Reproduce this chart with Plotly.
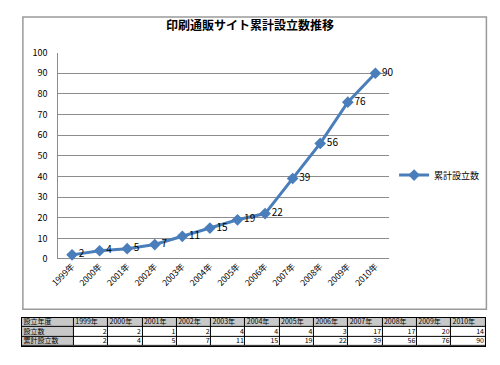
import plotly.graph_objects as go

years = ["1999年", "2000年", "2001年", "2002年", "2003年", "2004年",
         "2005年", "2006年", "2007年", "2008年", "2009年", "2010年"]
new_counts = [2, 2, 1, 2, 4, 4, 4, 3, 17, 17, 20, 14]
cumulative = [2, 4, 5, 7, 11, 15, 19, 22, 39, 56, 76, 90]
series_name = "累計設立数"
title = "印刷通販サイト累計設立数推移"
row_labels = ["設立数", "累計設立数"]
header_label = "設立年度"

W, H = 500, 365
OFF = 8  # page body margin offset in the browser
def px(x): return (x - OFF) / W
def py(y): return (H - (y - OFF)) / H

FONT = "Noto Sans CJK JP"
BLUE = "#4a7ebb"
GRAY = "#c8c8c8"

fig = go.Figure()
fig.add_trace(go.Scatter(
    x=years, y=cumulative, mode="lines+markers+text",
    name=series_name,
    line=dict(color=BLUE, width=3),
    marker=dict(symbol="diamond", size=9, color=BLUE),
    text=[str(v) for v in cumulative], textposition="middle right",
    textfont=dict(size=10, color="#000000", family=FONT),
    cliponaxis=False, hoverinfo="skip",
))

# ---- data table (drawn on its own axes) ----
first_w, col_w = 53, 35
widths = [first_w] + [col_w] * len(years)
edges = [0]
for w in widths:
    edges.append(edges[-1] + w)
ncols = len(widths)
header_row = [header_label] + years
body_rows = [[row_labels[0]] + [str(v) for v in new_counts],
             [row_labels[1]] + [str(v) for v in cumulative]]
z = [[1] * ncols] + [[1] + [0] * (ncols - 1) for _ in body_rows]

fig.add_trace(go.Heatmap(
    x=edges, y=[0, 1, 2, 3], z=z, xaxis="x2", yaxis="y2",
    colorscale=[[0, "#ffffff"], [1, GRAY]], zmin=0, zmax=1,
    showscale=False, xgap=1, ygap=1, hoverinfo="skip",
))

pad = 1.5
tx, ty, tt, tp = [], [], [], []
for c in range(ncols):
    tx.append(edges[c] + pad); ty.append(0.5); tt.append(header_row[c]); tp.append("middle right")
for r, row in enumerate(body_rows):
    for c in range(ncols):
        if c == 0:
            tx.append(edges[c] + pad); tp.append("middle right")
        else:
            tx.append(edges[c + 1] - pad); tp.append("middle left")
        ty.append(r + 1.5); tt.append(row[c])

fig.add_trace(go.Scatter(
    x=tx, y=ty, text=tt, mode="text", textposition=tp,
    xaxis="x2", yaxis="y2", showlegend=False, hoverinfo="skip",
    textfont=dict(size=7, color="#000000", family=FONT), cliponaxis=False,
))

fig.update_layout(
    width=W, height=H,
    margin=dict(l=0, r=0, t=0, b=0),
    paper_bgcolor="white", plot_bgcolor="white",
    font=dict(family=FONT, color="#000000"),
    title=dict(text="<b>" + title + "</b>", x=px(250), xanchor="center",
               y=py(26), yanchor="middle",
               font=dict(size=12, family=FONT, color="#000000")),
    showlegend=True,
    legend=dict(x=px(392), y=py(174), xanchor="left", yanchor="middle",
                font=dict(size=9, family=FONT), bgcolor="rgba(0,0,0,0)"),
    xaxis=dict(domain=[px(50), px(387)], type="category",
               range=[-0.5, len(years) - 0.5],
               tickangle=-45, tickfont=dict(size=8.5, family=FONT),
               showgrid=False, showline=False, ticks="", zeroline=False),
    yaxis=dict(domain=[py(261), py(47)], range=[0, 100], dtick=10,
               tickfont=dict(size=9, family=FONT),
               showgrid=True, gridcolor="#8c8c8c", gridwidth=1,
               showline=True, linecolor="#8c8c8c", linewidth=1,
               zeroline=True, zerolinecolor="#8c8c8c", zerolinewidth=1,
               ticks="", ticklabelstandoff=8),
    xaxis2=dict(domain=[px(13), px(485)], range=[edges[0], edges[-1]],
                showgrid=False, zeroline=False, showticklabels=False,
                showline=True, mirror=True, linecolor="#000000", linewidth=1,
                fixedrange=True),
    yaxis2=dict(domain=[py(351), py(322)], range=[3, 0], anchor="x2",
                showgrid=False, zeroline=False, showticklabels=False,
                showline=True, mirror=True, linecolor="#000000", linewidth=1,
                fixedrange=True),
    shapes=[
        dict(type="rect", xref="paper", yref="paper",
             x0=px(14), x1=px(486), y0=py(313), y1=py(10),
             line=dict(color="#9a9a9a", width=1.5), layer="above"),
        dict(type="rect", xref="x2 domain", yref="y2 domain",
             x0=0, x1=1, y0=0, y1=1, fillcolor="#000000",
             line=dict(width=0), layer="below"),
    ],
)
fig.layout.xaxis2.anchor = "y2"

fig.write_html("out.html", config={"displayModeBar": False})
